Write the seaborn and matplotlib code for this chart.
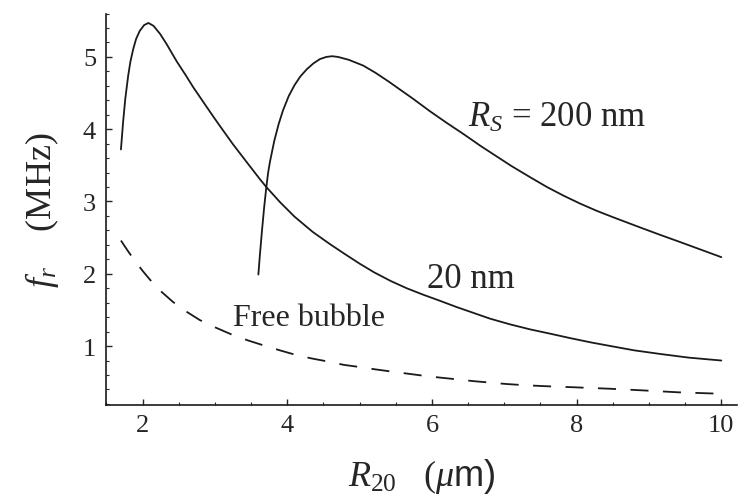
import numpy as np
import pandas as pd
import matplotlib
matplotlib.use('Agg')
import matplotlib.pyplot as plt
import seaborn as sns
from matplotlib.ticker import MultipleLocator

# values
r20_20nm = [1.70, 1.73, 1.76, 1.80, 1.83, 1.87, 1.91, 1.96, 2.02, 2.08, 2.15, 2.24,
            2.33, 2.40, 2.47, 2.60, 2.70, 2.85, 2.98, 3.10, 3.25, 3.45, 3.62, 3.71,
            3.90, 4.10, 4.35, 4.59, 4.80, 5.00, 5.20, 5.43, 5.65, 5.88, 6.10, 6.34,
            6.57, 6.80, 7.08, 7.36, 7.64, 7.91, 8.20, 8.47, 8.80, 9.16, 9.55, 10.0]
fr_20nm = [3.72, 4.10, 4.42, 4.74, 4.93, 5.11, 5.25, 5.36, 5.44, 5.47, 5.43, 5.32,
           5.18, 5.06, 4.94, 4.74, 4.58, 4.36, 4.17, 4.00, 3.79, 3.53, 3.31, 3.20,
           2.99, 2.79, 2.58, 2.41, 2.27, 2.14, 2.02, 1.90, 1.80, 1.71, 1.63, 1.54,
           1.46, 1.38, 1.30, 1.23, 1.17, 1.11, 1.05, 1.00, 0.94, 0.89, 0.84, 0.80]

r20_200nm = [3.60, 3.62, 3.65, 3.68, 3.71, 3.735, 3.76, 3.82, 3.88, 3.94, 4.02, 4.10,
             4.18, 4.27, 4.36, 4.45, 4.54, 4.62, 4.70, 4.85, 5.05, 5.22, 5.40, 5.57,
             5.74, 5.97, 6.20, 6.44, 6.67, 6.90, 7.10, 7.35, 7.59, 7.82, 8.05, 8.28,
             8.51, 8.88, 9.15, 9.40, 9.70, 10.0]
fr_200nm = [1.99, 2.25, 2.60, 2.92, 3.20, 3.40, 3.55, 3.84, 4.07, 4.26, 4.46, 4.61,
            4.73, 4.83, 4.91, 4.97, 5.00, 5.01, 5.00, 4.96, 4.88, 4.78, 4.66, 4.54,
            4.42, 4.25, 4.09, 3.93, 3.77, 3.62, 3.49, 3.34, 3.20, 3.08, 2.97, 2.87,
            2.78, 2.64, 2.54, 2.45, 2.34, 2.23]

r20_free = [1.70, 1.80, 1.90, 2.00, 2.10, 2.25, 2.42, 2.60, 2.79, 3.00, 3.23, 3.45,
            3.67, 3.90, 4.11, 4.33, 4.54, 4.78, 5.00, 5.20, 5.42, 5.65, 5.88, 6.10,
            6.34, 6.57, 6.80, 7.03, 7.26, 7.50, 7.68, 7.96, 8.45, 8.95, 9.41, 10.0]
fr_free = [2.46, 2.31, 2.17, 2.04, 1.92, 1.76, 1.61, 1.48, 1.36, 1.26, 1.16, 1.08,
           1.01, 0.94, 0.88, 0.83, 0.79, 0.74, 0.71, 0.68, 0.65, 0.62, 0.59, 0.565,
           0.54, 0.515, 0.495, 0.475, 0.46, 0.448, 0.44, 0.43, 0.41, 0.385, 0.36, 0.34]

df_20 = pd.DataFrame({'R20': r20_20nm, 'fr': fr_20nm})
df_200 = pd.DataFrame({'R20': r20_200nm, 'fr': fr_200nm})
df_free = pd.DataFrame({'R20': r20_free, 'fr': fr_free})

sns.set_theme(style='ticks')
plt.rcParams['font.family'] = ['Liberation Serif', 'DejaVu Serif']
plt.rcParams['mathtext.fontset'] = 'custom'
plt.rcParams['mathtext.rm'] = 'Liberation Serif'
plt.rcParams['mathtext.it'] = 'Liberation Serif:italic'
plt.rcParams['mathtext.sf'] = 'Liberation Sans'

fig = plt.figure(figsize=(7.5, 5.02), dpi=100)
ax = fig.add_axes([0.141, 0.192, 0.842, 0.779])

line_col = '#1a1a1a'
sns.lineplot(data=df_20, x='R20', y='fr', ax=ax, color=line_col, lw=1.3, estimator=None)
sns.lineplot(data=df_200, x='R20', y='fr', ax=ax, color=line_col, lw=1.3, estimator=None)
sns.lineplot(data=df_free, x='R20', y='fr', ax=ax, color=line_col, lw=1.3, estimator=None,
             dashes=False, linestyle=(0, (10, 8)))

ax.set_xlim(1.49, 10.22)
ax.set_ylim(0.19, 5.6)
ax.xaxis.set_major_locator(MultipleLocator(2))
ax.xaxis.set_minor_locator(MultipleLocator(0.5))
ax.yaxis.set_major_locator(MultipleLocator(1))
ax.yaxis.set_minor_locator(MultipleLocator(0.2))
ax.set_yticks([1, 2, 3, 4, 5])
ax.tick_params(which='major', direction='in', length=4, width=1, labelsize=19, pad=7)
ax.tick_params(which='minor', direction='in', length=2, width=0.8)
sns.despine(ax=ax)
for s in ['left', 'bottom']:
    ax.spines[s].set_linewidth(1.2)
    ax.spines[s].set_color(line_col)

ax.set_xlabel(r'$R_{20}$   ($\mu\mathsf{m)}$', fontsize=26, labelpad=14)
ax.set_ylabel(r'$f_r$    (MHz)', fontsize=26, labelpad=16)

ax.text(6.50, 4.05, r'$R_S$ = 200 nm', fontsize=25, va='baseline', ha='left')
ax.text(5.93, 1.82, '20 nm', fontsize=25, va='baseline', ha='left')
ax.text(3.25, 1.29, 'Free bubble', fontsize=23, va='baseline', ha='left')

fig.savefig('out.png', dpi=100)
